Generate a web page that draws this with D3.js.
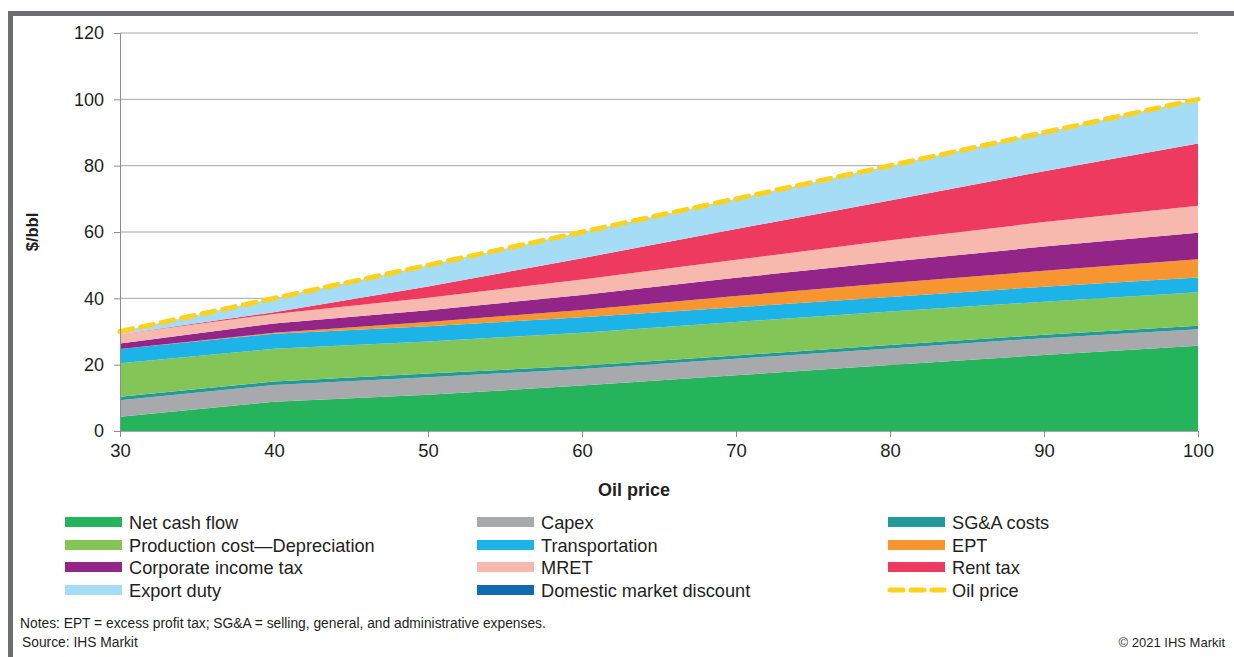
<!DOCTYPE html>
<html>
<head>
<meta charset="utf-8">
<script src="https://cdn.jsdelivr.net/npm/d3@7"></script>
<style>
  body { margin: 0; background: #fff; font-family: "Liberation Sans", Arial, sans-serif; }
  text { fill: #231f20; }
</style>
</head>
<body>
<div id="chart"></div>
<script>
// oil price points on the x axis
var prices = [30, 40, 50, 60, 70, 80, 90, 100];

// $/bbl components (bottom of stack first)
var netCashFlow   = [4.3, 8.8, 10.9, 13.7, 16.8, 19.9, 22.9, 25.7];
var capex         = [5.0, 5.1, 5.3, 5.0, 5.0, 5.0, 5.1, 5.0];
var sgaCosts      = [1.0, 1.0, 1.1, 1.0, 1.0, 1.0, 1.0, 1.0];
var prodCost      = [10.1, 9.9, 9.7, 9.9, 10.1, 10.1, 10.0, 10.1];
var transport     = [4.3, 4.5, 4.6, 4.7, 4.4, 4.4, 4.5, 4.5];
var ept           = [0, 0.3, 1.3, 2.2, 3.4, 4.2, 4.8, 5.5];
var corpTax       = [1.7, 2.8, 3.5, 4.5, 5.5, 6.4, 7.3, 8.0];
var mret          = [2.8, 2.9, 3.8, 4.7, 5.4, 6.5, 7.4, 8.1];
var rentTax       = [0, 0.5, 3.4, 6.4, 9.3, 12.0, 15.3, 18.8];
var exportDuty    = [0.8, 4.2, 6.4, 7.9, 9.1, 10.5, 11.7, 13.3];
var domDiscount   = [0, 0, 0, 0, 0, 0, 0, 0];
var oilPrice      = [30, 40, 50, 60, 70, 80, 90, 100];

var yTicks = [0, 20, 40, 60, 80, 100, 120];
var xTicks = [30, 40, 50, 60, 70, 80, 90, 100];

var series = [
    { key: "ncf",  name: "Net cash flow", vals: netCashFlow, color: "#25b35b" },
    { key: "cap",  name: "Capex", vals: capex, color: "#a7a9ac" },
    { key: "sga",  name: "SG&A costs", vals: sgaCosts, color: "#23999a" },
    { key: "prod", name: "Production cost\u2014Depreciation", vals: prodCost, color: "#83c557" },
    { key: "tr",   name: "Transportation", vals: transport, color: "#1cb4e8" },
    { key: "ept",  name: "EPT", vals: ept, color: "#f79530" },
    { key: "cit",  name: "Corporate income tax", vals: corpTax, color: "#922587" },
    { key: "mret", name: "MRET", vals: mret, color: "#f7b8ae" },
    { key: "rent", name: "Rent tax", vals: rentTax, color: "#ef3a5f" },
    { key: "exp",  name: "Export duty", vals: exportDuty, color: "#a6ddf6" },
    { key: "dmd",  name: "Domestic market discount", vals: domDiscount, color: "#126ab1" }
];

// legend order as in the picture (row by row)
var legendOrder = ["ncf", "cap", "sga", "prod", "tr", "ept", "cit", "mret", "rent", "exp", "dmd", "oil"];

var w = 1234;
var h = 657;
var margin = { top: 33, right: 36, bottom: 226, left: 120 }; // plot area 120..1198 x 33..431
var width = w - margin.left - margin.right;
var height = h - margin.top - margin.bottom;

var root = d3.select("#chart").append("svg")
    .attr("width", w)
    .attr("height", h);

// grey frame on top and left
root.append("rect").attr("x", 8).attr("y", 11).attr("width", w - 8).attr("height", 5).attr("fill", "#6d6e71");
root.append("rect").attr("x", 8).attr("y", 11).attr("width", 5).attr("height", h - 11).attr("fill", "#6d6e71");

var svg = root.append("g")
    .attr("transform", "translate(" + margin.left + "," + margin.top + ")");

var x = d3.scaleLinear().domain([30, 100]).range([0, width]);
var y = d3.scaleLinear().domain([0, 120]).range([height, 0]);

// gridlines
svg.append("g")
    .selectAll("line")
    .data(yTicks.filter(d => d > 0))
    .enter()
    .append("line")
    .attr("x1", 0)
    .attr("x2", width)
    .attr("y1", d => y(d))
    .attr("y2", d => y(d))
    .attr("stroke", "#a6a6a6")
    .attr("stroke-width", 1);

// stacked areas
var table = prices.map((p, i) => {
    var row = { price: p };
    series.forEach(s => { row[s.key] = s.vals[i]; });
    return row;
});

var stack = d3.stack().keys(series.map(s => s.key));
var layers = stack(table);

var area = d3.area()
    .x(d => x(d.data.price))
    .y0(d => y(d[0]))
    .y1(d => y(d[1]));

svg.append("g")
    .selectAll("path")
    .data(layers)
    .enter()
    .append("path")
    .attr("d", area)
    .attr("fill", (d, i) => series[i].color);

// oil price dashed line
var line = d3.line()
    .x((d, i) => x(prices[i]))
    .y(d => y(d));

svg.append("path")
    .datum(oilPrice)
    .attr("d", line)
    .attr("fill", "none")
    .attr("stroke", "#fdd21f")
    .attr("stroke-width", 5)
    .attr("stroke-dasharray", "13,8")
    .attr("stroke-linecap", "round");

// axes
var yAxis = svg.append("g")
    .call(d3.axisLeft(y).tickValues(yTicks).tickSize(6).tickPadding(10));
yAxis.select(".domain").attr("stroke", "#8c8c8c");
yAxis.selectAll(".tick line").attr("stroke", "#8c8c8c");
yAxis.selectAll("text").style("font-size", "18px").style("font-family", "Liberation Sans, Arial, sans-serif").attr("fill", "#231f20");

var xAxis = svg.append("g")
    .attr("transform", "translate(0," + height + ")")
    .call(d3.axisBottom(x).tickValues(xTicks).tickSize(6).tickPadding(7));
xAxis.select(".domain").attr("stroke", "#a6a6a6");
xAxis.selectAll(".tick line").attr("stroke", "#8c8c8c");
xAxis.selectAll("text").style("font-size", "18.5px").style("font-family", "Liberation Sans, Arial, sans-serif").attr("fill", "#231f20");

// axis titles
svg.append("text")
    .attr("transform", "translate(-82," + (height / 2) + ") rotate(-90)")
    .attr("text-anchor", "middle")
    .style("font-size", "16.5px")
    .style("font-weight", "bold")
    .text("$/bbl");

svg.append("text")
    .attr("x", width / 2 - 25)
    .attr("y", height + 65)
    .attr("text-anchor", "middle")
    .style("font-size", "18px")
    .style("font-weight", "bold")
    .text("Oil price");

// legend
var colX = [65, 477, 888];
var rowY = [522, 545, 567, 590];
var lookup = {};
series.forEach(s => { lookup[s.key] = s; });
lookup.oil = { name: "Oil price", color: "#fdd21f", dashed: true };

var legend = root.append("g");
legendOrder.forEach((k, i) => {
    var s = lookup[k];
    var cx = colX[i % 3];
    var cy = rowY[Math.floor(i / 3)];
    if (s.dashed) {
        legend.append("line")
            .attr("x1", cx + 2).attr("x2", cx + 56)
            .attr("y1", cy).attr("y2", cy)
            .attr("stroke", s.color)
            .attr("stroke-width", 5)
            .attr("stroke-dasharray", "13,8")
            .attr("stroke-linecap", "round");
    } else {
        legend.append("rect")
            .attr("x", cx).attr("y", cy - 5)
            .attr("width", 57).attr("height", 10)
            .attr("fill", s.color);
    }
    legend.append("text")
        .attr("x", cx + 64)
        .attr("y", cy + 6.5)
        .style("font-size", "18.2px")
        .text(s.name);
});

// notes and source
root.append("text")
    .attr("x", 20).attr("y", 628)
    .style("font-size", "13.8px")
    .text("Notes: EPT = excess profit tax; SG&A = selling, general, and administrative expenses.");
root.append("text")
    .attr("x", 22).attr("y", 647)
    .style("font-size", "13.8px")
    .text("Source: IHS Markit");
root.append("text")
    .attr("x", 1225).attr("y", 647)
    .attr("text-anchor", "end")
    .style("font-size", "13px")
    .text("\u00a9 2021 IHS Markit");
</script>
</body>
</html>
